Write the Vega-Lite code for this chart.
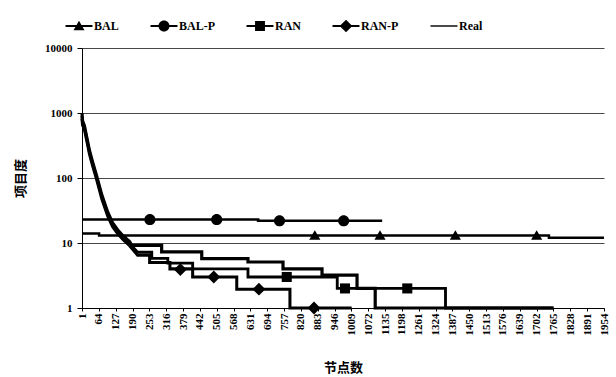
{
  "$schema": "https://vega.github.io/schema/vega-lite/v6.json",
  "autosize": {"type": "none"},
  "width": 522,
  "height": 260,
  "padding": {"left": 82, "top": 48, "right": 12, "bottom": 69},
  "background": "white",
  "config": {
    "view": {"stroke": null},
    "axis": {"labelFont": "Liberation Serif", "labelFontWeight": "bold", "labelFontSize": 11, "labelColor": "black", "titleFont": "Noto Sans CJK SC", "titleFontWeight": "bold", "titleFontSize": 13, "titleColor": "black", "domainColor": "black", "tickColor": "black"}
  },
  "datasets": {
    "lines": [
      {"s": "Real", "i": 1, "x": 1, "y": 1000},
      {"s": "Real", "i": 2, "x": 3, "y": 760},
      {"s": "Real", "i": 3, "x": 10, "y": 640},
      {"s": "Real", "i": 4, "x": 20, "y": 400},
      {"s": "Real", "i": 5, "x": 29, "y": 265},
      {"s": "Real", "i": 6, "x": 40, "y": 180},
      {"s": "Real", "i": 7, "x": 55, "y": 110},
      {"s": "Real", "i": 8, "x": 75, "y": 55},
      {"s": "Real", "i": 9, "x": 97, "y": 30},
      {"s": "Real", "i": 10, "x": 115, "y": 20.5},
      {"s": "Real", "i": 11, "x": 134, "y": 16},
      {"s": "Real", "i": 12, "x": 155, "y": 12.8},
      {"s": "Real", "i": 13, "x": 179, "y": 10.5},
      {"s": "Real", "i": 14, "x": 187, "y": 9.2},
      {"s": "Real", "i": 15, "x": 299, "y": 9.2},
      {"s": "Real", "i": 16, "x": 299, "y": 7.3},
      {"s": "Real", "i": 17, "x": 449, "y": 7.3},
      {"s": "Real", "i": 18, "x": 449, "y": 5.75},
      {"s": "Real", "i": 19, "x": 622, "y": 5.75},
      {"s": "Real", "i": 20, "x": 622, "y": 5.1},
      {"s": "Real", "i": 21, "x": 753, "y": 5.1},
      {"s": "Real", "i": 22, "x": 753, "y": 4.0},
      {"s": "Real", "i": 23, "x": 899, "y": 4.0},
      {"s": "Real", "i": 24, "x": 899, "y": 3.2},
      {"s": "Real", "i": 25, "x": 1030, "y": 3.2},
      {"s": "Real", "i": 26, "x": 1030, "y": 2.0},
      {"s": "Real", "i": 27, "x": 1098, "y": 2.0},
      {"s": "Real", "i": 28, "x": 1098, "y": 1},
      {"s": "Real", "i": 29, "x": 1765, "y": 1},
      {"s": "RAN", "i": 1, "x": 1, "y": 900},
      {"s": "RAN", "i": 2, "x": 3, "y": 700},
      {"s": "RAN", "i": 3, "x": 10, "y": 600},
      {"s": "RAN", "i": 4, "x": 20, "y": 380},
      {"s": "RAN", "i": 5, "x": 29, "y": 250},
      {"s": "RAN", "i": 6, "x": 40, "y": 170},
      {"s": "RAN", "i": 7, "x": 55, "y": 104},
      {"s": "RAN", "i": 8, "x": 75, "y": 52},
      {"s": "RAN", "i": 9, "x": 97, "y": 28},
      {"s": "RAN", "i": 10, "x": 115, "y": 19.5},
      {"s": "RAN", "i": 11, "x": 134, "y": 15},
      {"s": "RAN", "i": 12, "x": 155, "y": 12},
      {"s": "RAN", "i": 13, "x": 179, "y": 9.8},
      {"s": "RAN", "i": 14, "x": 209, "y": 7.2},
      {"s": "RAN", "i": 15, "x": 262, "y": 7.2},
      {"s": "RAN", "i": 16, "x": 262, "y": 5.8},
      {"s": "RAN", "i": 17, "x": 322, "y": 5.8},
      {"s": "RAN", "i": 18, "x": 322, "y": 4.9},
      {"s": "RAN", "i": 19, "x": 415, "y": 4.9},
      {"s": "RAN", "i": 20, "x": 415, "y": 4.0},
      {"s": "RAN", "i": 21, "x": 622, "y": 4.0},
      {"s": "RAN", "i": 22, "x": 622, "y": 3.0},
      {"s": "RAN", "i": 23, "x": 956, "y": 3.0},
      {"s": "RAN", "i": 24, "x": 956, "y": 2.0},
      {"s": "RAN", "i": 25, "x": 1361, "y": 2.0},
      {"s": "RAN", "i": 26, "x": 1361, "y": 1},
      {"s": "RAN", "i": 27, "x": 1765, "y": 1},
      {"s": "RAN-P", "i": 1, "x": 1, "y": 820},
      {"s": "RAN-P", "i": 2, "x": 3, "y": 650},
      {"s": "RAN-P", "i": 3, "x": 10, "y": 560},
      {"s": "RAN-P", "i": 4, "x": 20, "y": 355},
      {"s": "RAN-P", "i": 5, "x": 29, "y": 232},
      {"s": "RAN-P", "i": 6, "x": 40, "y": 158},
      {"s": "RAN-P", "i": 7, "x": 55, "y": 97},
      {"s": "RAN-P", "i": 8, "x": 75, "y": 48},
      {"s": "RAN-P", "i": 9, "x": 97, "y": 26},
      {"s": "RAN-P", "i": 10, "x": 115, "y": 18},
      {"s": "RAN-P", "i": 11, "x": 134, "y": 14},
      {"s": "RAN-P", "i": 12, "x": 155, "y": 11.2},
      {"s": "RAN-P", "i": 13, "x": 179, "y": 9.1},
      {"s": "RAN-P", "i": 14, "x": 209, "y": 6.5},
      {"s": "RAN-P", "i": 15, "x": 254, "y": 6.5},
      {"s": "RAN-P", "i": 16, "x": 254, "y": 5.0},
      {"s": "RAN-P", "i": 17, "x": 330, "y": 5.0},
      {"s": "RAN-P", "i": 18, "x": 330, "y": 4.0},
      {"s": "RAN-P", "i": 19, "x": 415, "y": 4.0},
      {"s": "RAN-P", "i": 20, "x": 415, "y": 3.0},
      {"s": "RAN-P", "i": 21, "x": 580, "y": 3.0},
      {"s": "RAN-P", "i": 22, "x": 580, "y": 1.95},
      {"s": "RAN-P", "i": 23, "x": 779, "y": 1.95},
      {"s": "RAN-P", "i": 24, "x": 779, "y": 1},
      {"s": "RAN-P", "i": 25, "x": 1010, "y": 1},
      {"s": "BAL", "i": 1, "x": 1, "y": 14},
      {"s": "BAL", "i": 2, "x": 65, "y": 14},
      {"s": "BAL", "i": 3, "x": 65, "y": 13},
      {"s": "BAL", "i": 4, "x": 1748, "y": 13},
      {"s": "BAL", "i": 5, "x": 1748, "y": 12},
      {"s": "BAL", "i": 6, "x": 1954, "y": 12},
      {"s": "BAL-P", "i": 1, "x": 1, "y": 23},
      {"s": "BAL-P", "i": 2, "x": 660, "y": 23},
      {"s": "BAL-P", "i": 3, "x": 660, "y": 22},
      {"s": "BAL-P", "i": 4, "x": 1124, "y": 22}
    ],
    "markers": [
      {"s": "BAL", "x": 872, "y": 13},
      {"s": "BAL", "x": 1116, "y": 13},
      {"s": "BAL", "x": 1398, "y": 13},
      {"s": "BAL", "x": 1702, "y": 13},
      {"s": "BAL-P", "x": 255, "y": 23},
      {"s": "BAL-P", "x": 505, "y": 23},
      {"s": "BAL-P", "x": 740, "y": 22},
      {"s": "BAL-P", "x": 980, "y": 22},
      {"s": "RAN", "x": 767, "y": 3.0},
      {"s": "RAN", "x": 985, "y": 2.0},
      {"s": "RAN", "x": 1218, "y": 2.0},
      {"s": "RAN-P", "x": 369, "y": 3.9},
      {"s": "RAN-P", "x": 494, "y": 3.0},
      {"s": "RAN-P", "x": 663, "y": 1.95},
      {"s": "RAN-P", "x": 869, "y": 1}
    ]
  },
  "encoding": {
    "x": {
      "field": "x", "type": "quantitative",
      "scale": {"domain": [1, 1954], "nice": false, "zero": false},
      "axis": {
        "title": "节点数",
        "values": [1, 64, 127, 190, 253, 316, 379, 442, 505, 568, 631, 694, 757, 820, 883, 946, 1009, 1072, 1135, 1198, 1261, 1324, 1387, 1450, 1513, 1576, 1639, 1702, 1765, 1828, 1891, 1954],
        "format": "d", "labelAngle": 270, "labelOverlap": false, "labelFlush": false,
        "grid": false, "tickSize": 3, "labelPadding": 2, "titlePadding": 26, "domainWidth": 1
      }
    },
    "y": {
      "field": "y", "type": "quantitative",
      "scale": {"type": "log", "domain": [1, 10000], "nice": false},
      "axis": {
        "title": "项目度",
        "values": [1, 10, 100, 1000, 10000], "format": "d",
        "grid": true, "gridColor": "#333", "gridWidth": 0.9,
        "tickSize": 5, "labelPadding": 5, "titlePadding": 17, "domainWidth": 1
      }
    }
  },
  "layer": [
    {
      "data": {"name": "lines"},
      "mark": {"type": "line", "color": "black", "strokeJoin": "miter"},
      "encoding": {
        "detail": {"field": "s"},
        "order": {"field": "i", "type": "quantitative"},
        "strokeWidth": {
          "field": "s", "type": "nominal",
          "scale": {"domain": ["BAL", "BAL-P", "RAN", "RAN-P", "Real"], "range": [2.5, 3.2, 2, 2.6, 1.6]},
          "legend": null
        }
      }
    },
    {
      "data": {"name": "markers"},
      "mark": {"type": "point", "filled": true, "color": "black", "opacity": 1, "size": 125},
      "encoding": {
        "shape": {
          "field": "s", "type": "nominal",
          "scale": {
            "domain": ["BAL", "BAL-P", "RAN", "RAN-P"],
            "range": [
              "M-1,0.75L0,-0.95L1,0.75Z",
              "M-1,0A1,1 0 1,1 1,0A1,1 0 1,1 -1,0Z",
              "M-0.9,-0.9H0.9V0.9H-0.9Z",
              "M-1.15,0L0,-1.15L1.15,0L0,1.15Z"
            ]
          },
          "legend": null
        }
      }
    },
    {
      "data": {"name": "lines"},
      "mark": {"type": "point", "filled": true, "color": "black", "opacity": 0, "size": 1},
      "encoding": {
        "shape": {
          "field": "s", "type": "nominal",
          "scale": {
            "domain": ["BAL", "BAL-P", "RAN", "RAN-P", "Real"],
            "range": [
              "M-2.45,-0.18H2.45V0.18H-2.45ZM-1,0.75L0,-0.95L1,0.75Z",
              "M-2.45,-0.18H2.45V0.18H-2.45ZM-1,0A1,1 0 1,1 1,0A1,1 0 1,1 -1,0Z",
              "M-2.45,-0.18H2.45V0.18H-2.45ZM-0.9,-0.9H0.9V0.9H-0.9Z",
              "M-2.45,-0.18H2.45V0.18H-2.45ZM-1.15,0L0,-1.15L1.15,0L0,1.15Z",
              "M-2.45,-0.13H2.45V0.13H-2.45Z"
            ]
          },
          "legend": {
            "title": null, "orient": "none", "direction": "horizontal", "columns": 5, "gridAlign": "none",
            "legendX": -9, "legendY": -28, "padding": 0,
            "symbolSize": 121, "symbolOpacity": 1, "symbolFillColor": "black", "symbolStrokeColor": "black", "symbolStrokeWidth": 0.5,
            "labelFont": "Liberation Serif", "labelFontWeight": "bold", "labelFontSize": 12, "labelColor": "black",
            "labelOffset": 9, "columnPadding": 30,
            "encode": {"symbols": {"update": {"opacity": {"value": 1}, "fill": {"value": "black"}, "stroke": {"value": "black"}}}}
          }
        }
      }
    }
  ],
  "resolve": {"scale": {"shape": "independent"}, "legend": {"shape": "independent"}}
}
